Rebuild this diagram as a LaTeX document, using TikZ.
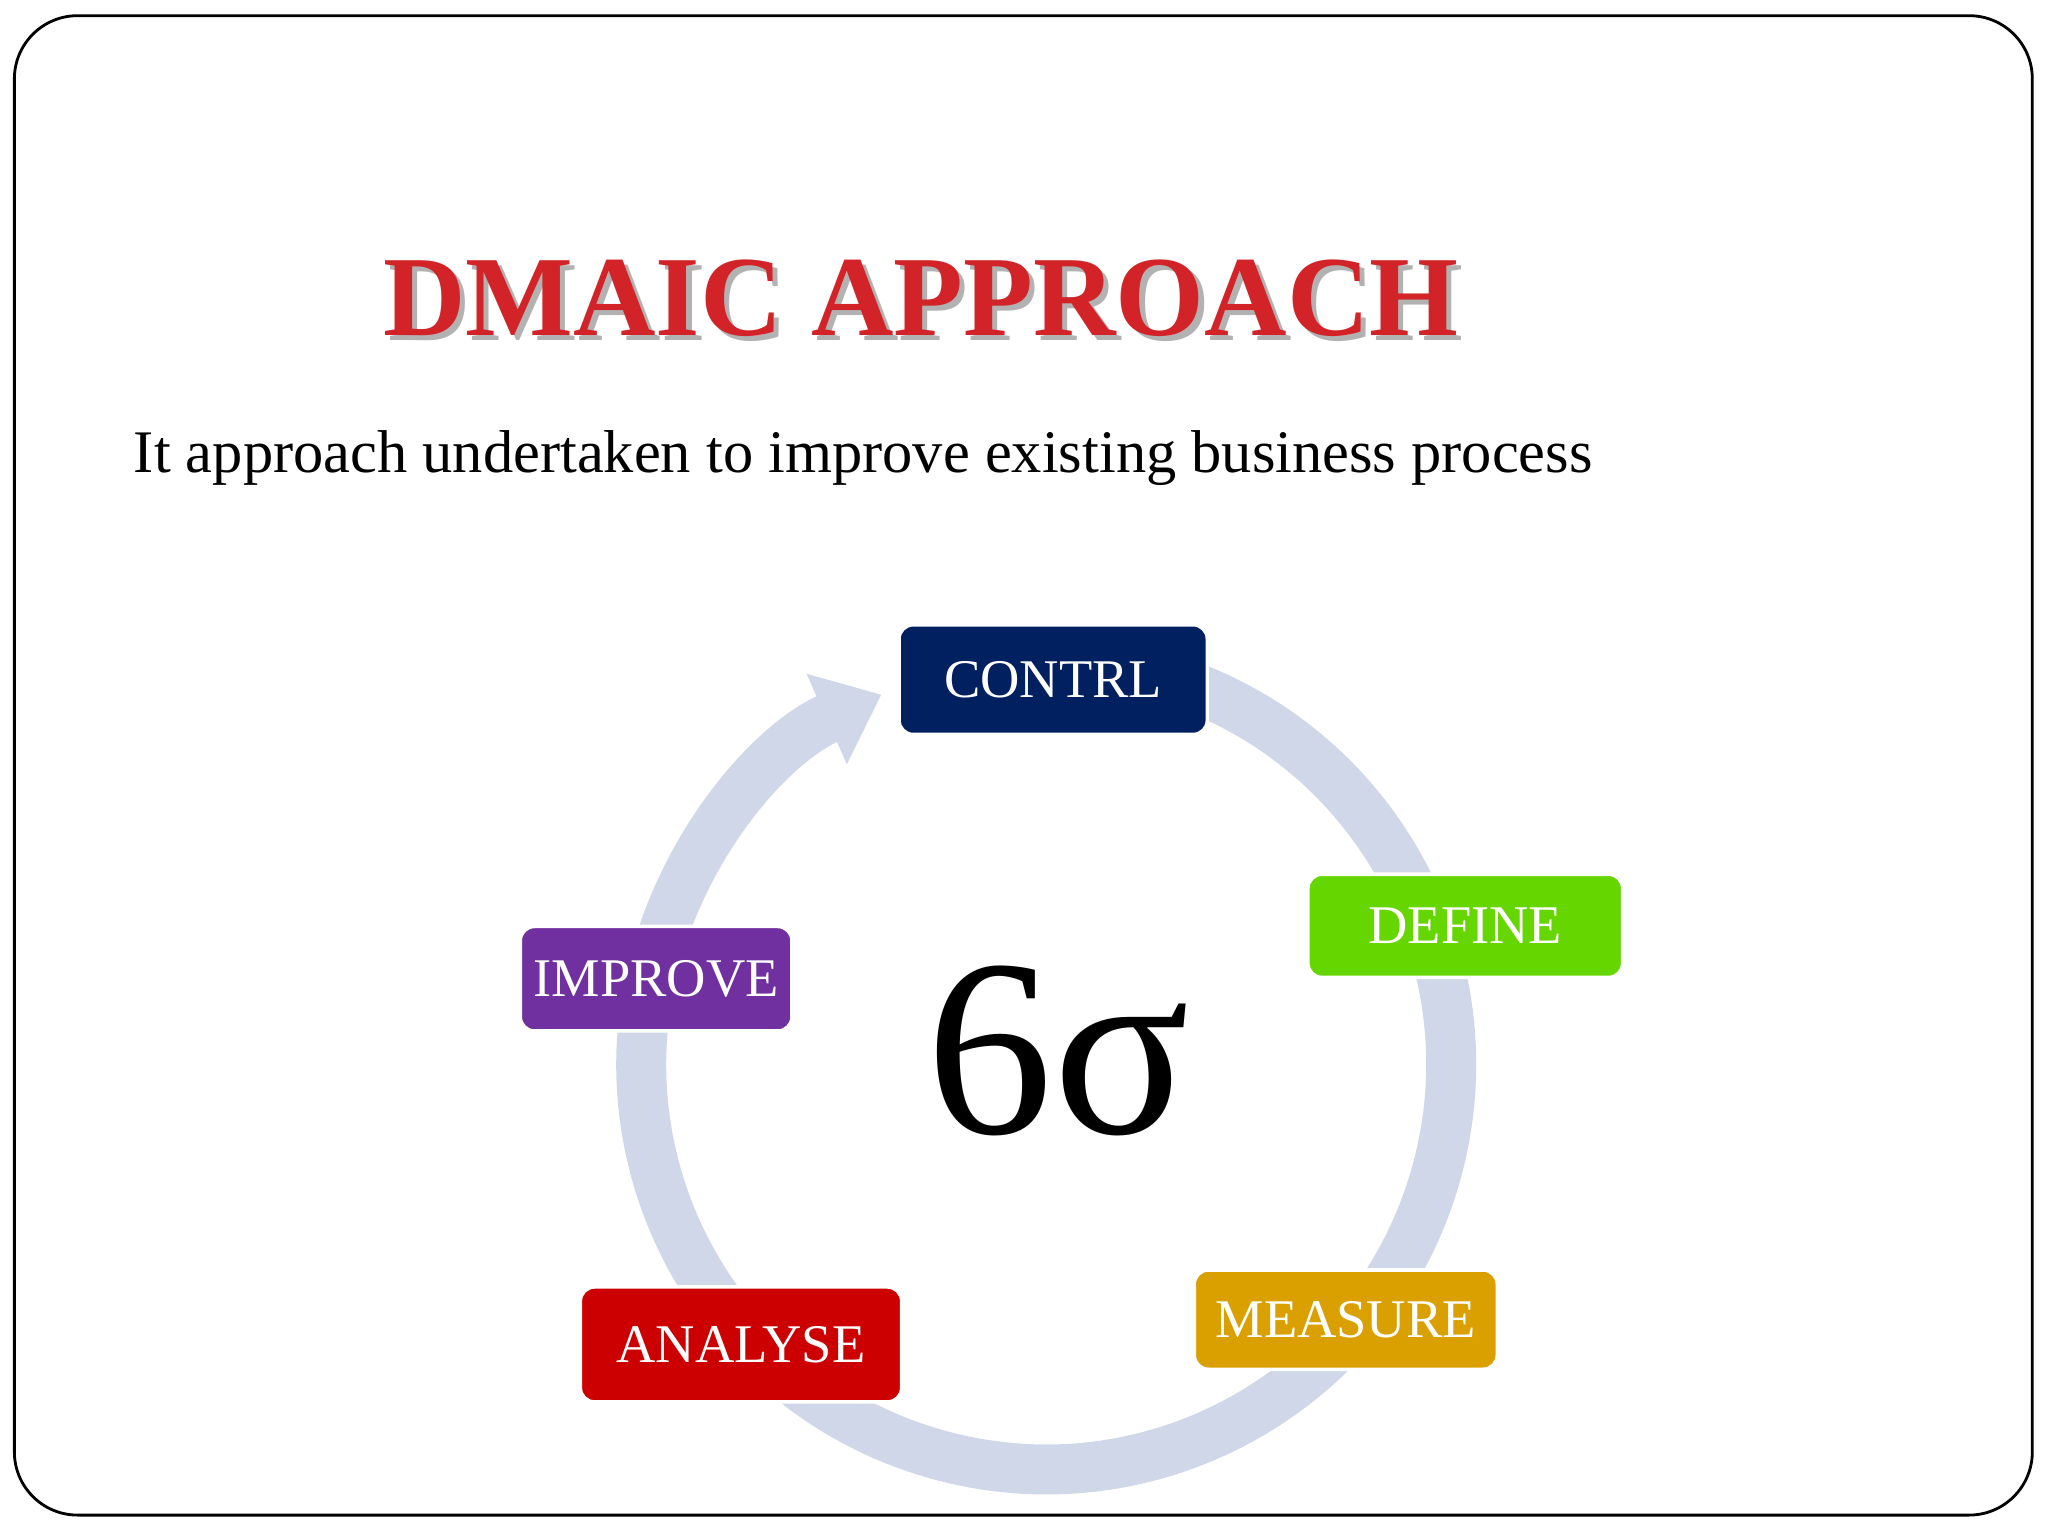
\documentclass[tikz,border=0pt]{standalone}
\usepackage{fontspec}
\setmainfont{Liberation Serif}
\usetikzlibrary{arrows.meta}
\definecolor{ringc}{RGB}{208,215,232}
\definecolor{navyc}{RGB}{0,32,96}
\definecolor{greenc}{RGB}{102,214,0}
\definecolor{orangec}{RGB}{218,160,0}
\definecolor{redc}{RGB}{204,0,0}
\definecolor{purplec}{RGB}{112,48,160}
\definecolor{titlec}{RGB}{210,35,40}
\tikzset{
  stagebox/.style={draw=white,line width=1pt,rounded corners=4pt,text=white,font=\fontsize{15.5}{18}\selectfont,inner sep=0pt,anchor=north west}
}
\begin{document}
\begin{tikzpicture}[x=0.013061cm,y=-0.013061cm]
\useasboundingbox (0,0) rectangle (1568,1176);
\draw[line width=0.8pt,rounded corners=18pt] (11,12) rectangle (1556,1160);
% title
\node[text=black!30,font=\fontsize{32.5}{38}\selectfont\bfseries] (tsh) at (709,232) {DMAIC APPROACH};
\node[text=titlec,font=\fontsize{32.5}{38}\selectfont\bfseries] (title) at (705,228) {DMAIC APPROACH};
\node[anchor=base west,font=\fontsize{17.2}{21}\selectfont] (sub) at (93,362) {It approach undertaken to improve existing business process};
% ring
\coordinate (c) at (801,815);
\draw[ringc,line width=0.5cm,-{Triangle[width=0.95cm,length=0.6cm]}] (c) ++(-75:310) arc[start angle=-75,end angle=246,radius=310];
% boxes
\node[stagebox,fill=navyc,minimum width=236*0.013061cm,minimum height=84*0.013061cm] (contrl) at (687,477) {CONTRL};
\node[stagebox,fill=greenc,minimum width=241*0.013061cm,minimum height=79*0.013061cm] (define) at (1000,668) {DEFINE};
\node[stagebox,fill=orangec,minimum width=232*0.013061cm,minimum height=76*0.013061cm] (measure) at (913,971) {MEASURE};
\node[stagebox,fill=redc,minimum width=246*0.013061cm,minimum height=88*0.013061cm] (analyse) at (443,984) {ANALYSE};
\node[stagebox,fill=purplec,minimum width=208*0.013061cm,minimum height=80*0.013061cm] (improve) at (397,708) {IMPROVE};
\node[font=\fontsize{72}{80}\selectfont] (six) at (810,805) {6σ};
\end{tikzpicture}
\end{document}
